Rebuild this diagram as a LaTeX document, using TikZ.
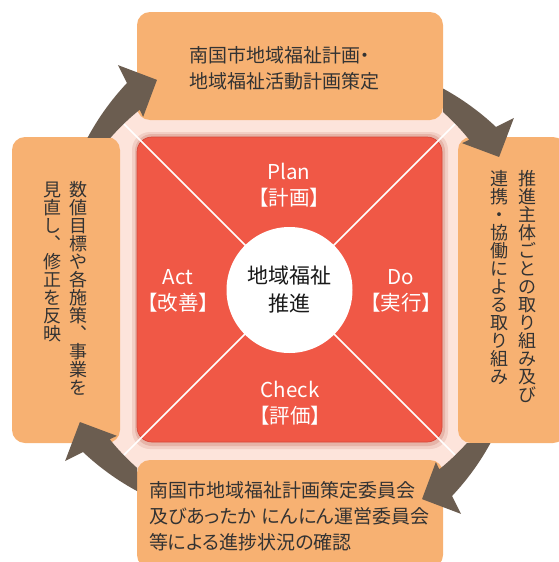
\documentclass[tikz,border=0pt]{standalone}
\usepackage{fontspec}
\setmainfont{Noto Sans CJK JP}
\newfontfamily\jpprop[RawFeature=+palt]{Noto Sans CJK JP}
\definecolor{boxor}{HTML}{F7B172}
\definecolor{redsq}{HTML}{F05846}
\definecolor{redline}{HTML}{D4473A}
\definecolor{pinkbg}{HTML}{FDE4DB}
\definecolor{shadowA}{HTML}{F2CFC5}
\definecolor{shadowB}{HTML}{E6B4A8}
\definecolor{arrbrown}{HTML}{6B5D50}
\definecolor{txt}{HTML}{333333}
\newcommand{\cyclearrow}{%
  \fill[arrbrown] plot[domain=0:1,samples=30] ({-(152-23.8*\x)}:{246.5+16.3*\x})
    -- (-127.4:282.5) -- (-122.3:248) -- (-130.3:226.3) -- (-129.8:234)
    -- plot[domain=0:1,samples=30] ({-(129.8+22.2*\x)}:{234+1.5*\x}) -- cycle;}
\begin{document}
\begin{tikzpicture}[x=1pt,y=-1pt,
  every node/.style={inner sep=0pt, outer sep=0pt},
  obox/.style={fill=boxor, rounded corners=13pt},
  lbl/.style={text=white, align=center, font=\fontsize{20.5}{26}\selectfont},
  btext/.style={text=txt, align=left, anchor=west, font=\jpprop\fontsize{19}{26}\selectfont},
  vtext/.style={text=txt, align=center, anchor=north, font=\fontsize{18}{18}\selectfont}]
\useasboundingbox (0,0) rectangle (558,562);
% pale ring background
\node[circle, fill=pinkbg, minimum size=472pt] (ring) at (289.5,289.5) {};
% boxes
\node[obox, minimum width=306pt, minimum height=108pt] (topbox) at (290,66) {};
\node[obox, minimum width=108pt, minimum height=306pt] (leftbox) at (66,290) {};
\node[obox, minimum width=108pt, minimum height=306pt] (rightbox) at (512,290) {};
\node[obox, minimum width=306pt, minimum height=108pt] (botbox) at (290,514) {};
% shadow of the square
\fill[shadowA, rounded corners=18pt] (132,132) rectangle (448,449);
\fill[shadowB, rounded corners=17pt] (135,134) rectangle (445,446);
% red square
\node[fill=redsq, draw=redline, line width=0.7pt, rounded corners=15pt, minimum size=305pt] (sq) at (289.5,289.5) {};
% diagonals
\draw[white, line width=1.6pt] (ring.north west) -- (ring.south east);
\draw[white, line width=1.6pt] (ring.north east) -- (ring.south west);
% cycle arrows
\begin{scope}
  \clip (0,0) rectangle (558,137);
  \begin{scope}[shift={(289.5,289.5)}] \cyclearrow \end{scope}
\end{scope}
\begin{scope}
  \clip (443,0) rectangle (558,562);
  \begin{scope}[shift={(289.5,289.5)}, rotate=-90] \cyclearrow \end{scope}
\end{scope}
\begin{scope}
  \clip (0,443) rectangle (558,562);
  \begin{scope}[shift={(289.5,289.5)}, rotate=-180] \cyclearrow \end{scope}
\end{scope}
\begin{scope}
  \clip (0,0) rectangle (137,562);
  \begin{scope}[shift={(289.5,289.5)}, rotate=-270] \cyclearrow \end{scope}
\end{scope}
% centre
\node[circle, fill=white, minimum size=126pt, align=center, text=black!90,
      font=\fontsize{21}{28}\selectfont] (core) at (289.5,290) {地域福祉\\推進};
% PDCA labels
\node[lbl] (plan) at (289,185) {Plan\\【計画】};
\node[lbl] (act) at (178,291) {Act\\【改善】};
\node[lbl] (do) at (401,291) {Do\\【実行】};
\node[lbl] (check) at (290,403) {Check\\【評価】};
% box texts
\node[btext] (toptxt) at (189,68) {南国市地域福祉計画・\\地域福祉活動計画策定};
\node[btext] (bottxt) at (149,516) {南国市地域福祉計画策定委員会\\及びあったか\hspace{0.3em}にんにん運営委員会\\等による進捗状況の確認};
\node[vtext] (lvr) at (78,181) {数\\値\\目\\標\\や\\各\\施\\策\\︑\\事\\業\\を};
\node[vtext] (lvl) at (52,182) {見\\直\\し\\︑\\修\\正\\を\\反\\映};
\node[vtext] (rvr) at (527,170) {推\\進\\主\\体\\ご\\と\\の\\取\\り\\組\\み\\及\\び};
\node[vtext] (rvl) at (499,170) {連\\携\\・\\協\\働\\に\\よ\\る\\取\\り\\組\\み};
\end{tikzpicture}
\end{document}
